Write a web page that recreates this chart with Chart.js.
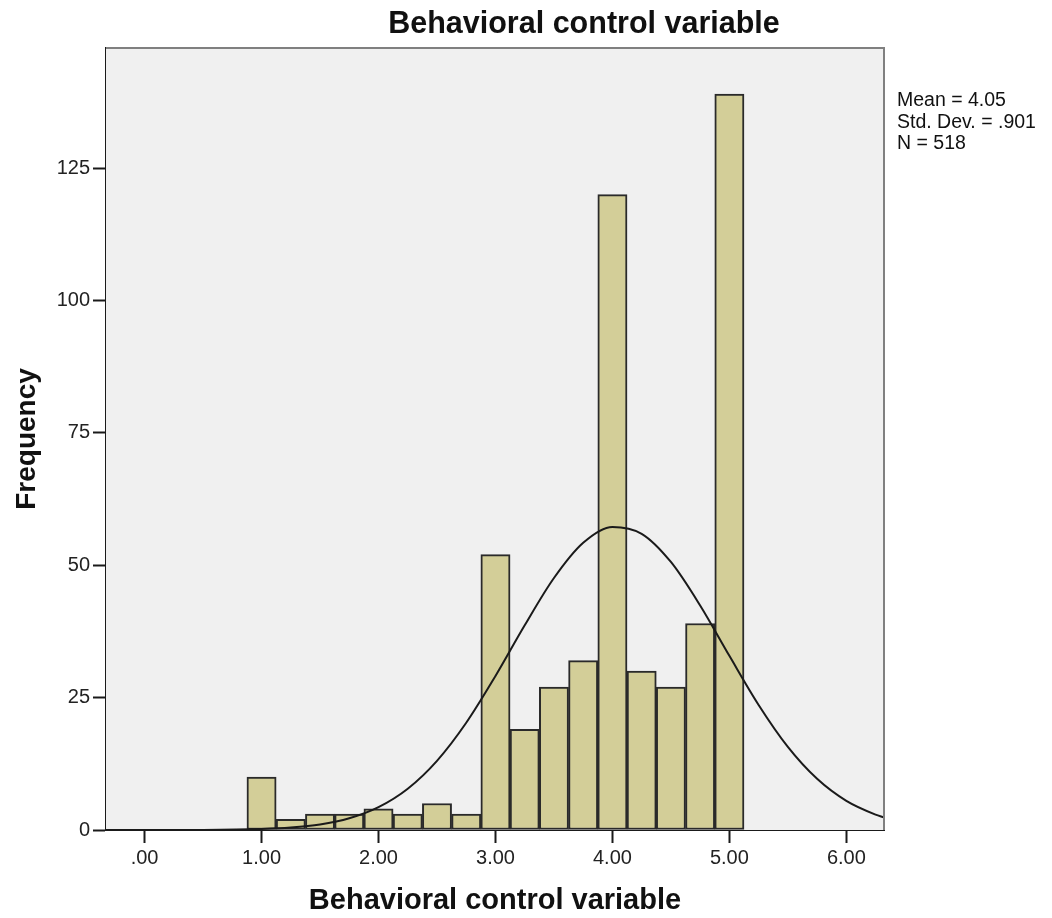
<!DOCTYPE html>
<html>
<head>
<meta charset="utf-8">
<script src="https://cdn.jsdelivr.net/npm/chart.js@4/dist/chart.umd.min.js"></script>
<style>
  html, body { margin: 0; background: #fff; }
</style>
</head>
<body>
<canvas id="hist" width="1052" height="918"></canvas>
<script>
// --- data ---
const chartTitle = "Behavioral control variable";
const xTitle = "Behavioral control variable";
const yTitle = "Frequency";

const binCenters = [1.00, 1.25, 1.50, 1.75, 2.00, 2.25, 2.50, 2.75, 3.00, 3.25, 3.50, 3.75, 4.00, 4.25, 4.50, 4.75, 5.00];
const frequencies = [10, 2, 3, 3, 4, 3, 5, 3, 52, 19, 27, 32, 120, 30, 27, 39, 139];

// normal curve as it appears on the plot
const curveX = [-0.33, 0.00, 0.50, 1.00, 1.25, 1.50, 1.75, 2.00, 2.25, 2.50, 2.75, 3.00, 3.25, 3.50, 3.75, 4.00, 4.25, 4.50, 4.75, 5.00, 5.25, 5.50, 5.75, 6.00, 6.25, 6.32];
const curveY = [0.0, 0.0, 0.02, 0.19, 0.46, 1.04, 2.21, 4.31, 7.79, 13.06, 20.25, 29.08, 38.66, 47.59, 54.25, 57.25, 55.95, 50.62, 42.40, 32.89, 23.62, 15.70, 9.67, 5.51, 2.91, 2.40];

const xTickValues = [0, 1, 2, 3, 4, 5, 6];
const xTickLabels = [".00", "1.00", "2.00", "3.00", "4.00", "5.00", "6.00"];
const yTickValues = [0, 25, 50, 75, 100, 125];
const yTickLabels = ["0", "25", "50", "75", "100", "125"];

const statsLines = ["Mean = 4.05", "Std. Dev. = .901", "N = 518"];

const FONT = "'Liberation Sans', Arial, sans-serif";

// plot background, frame, title and stats box
const decorations = {
  id: "decorations",
  beforeDatasetsDraw(chart) {
    const { ctx, chartArea: a } = chart;
    ctx.save();
    ctx.fillStyle = "#f0f0f0";
    ctx.fillRect(a.left, a.top, a.right - a.left, a.bottom - a.top);
    ctx.restore();
  },
  afterDraw(chart) {
    const { ctx, chartArea: a } = chart;
    ctx.save();
    ctx.strokeStyle = "#808080";
    ctx.lineWidth = 2;
    ctx.beginPath();
    ctx.moveTo(a.left, a.top);
    ctx.lineTo(a.right, a.top);
    ctx.lineTo(a.right, a.bottom);
    ctx.stroke();

    ctx.fillStyle = "#111";
    ctx.font = "bold 30.5px " + FONT;
    ctx.textAlign = "center";
    ctx.textBaseline = "middle";
    ctx.fillText(chartTitle, 584, 25);

    ctx.font = "19.5px " + FONT;
    ctx.textAlign = "left";
    statsLines.forEach((line, i) => {
      ctx.fillText(line, a.right + 13, 101 + i * 21.5);
    });
    ctx.restore();
  }
};

new Chart(document.getElementById("hist").getContext("2d"), {
  data: {
    datasets: [
      {
        type: "line",
        label: "Normal",
        data: curveX.map((x, i) => ({ x: x, y: curveY[i] })),
        borderColor: "#1a1a1a",
        borderWidth: 2,
        pointRadius: 0,
        cubicInterpolationMode: "monotone",
        order: 0
      },
      {
        type: "bar",
        label: "Frequency",
        data: binCenters.map((x, i) => ({ x: x, y: frequencies[i] })),
        backgroundColor: "#d3ce98",
        borderColor: "#2a2a2a",
        borderWidth: 2,
        borderSkipped: false,
        barPercentage: 1,
        categoryPercentage: 1,
        order: 1
      }
    ]
  },
  plugins: [decorations],
  options: {
    responsive: false,
    animation: false,
    layout: { padding: { top: 48, right: 168, left: 0, bottom: 0 } },
    plugins: {
      legend: { display: false },
      tooltip: { enabled: false },
      title: { display: false }
    },
    scales: {
      x: {
        type: "linear",
        offset: false,
        min: -0.33,
        max: 6.322,
        afterBuildTicks(scale) {
          scale.ticks = xTickValues.map(v => ({ value: v }));
        },
        afterFit(scale) {
          scale.height = 88;
        },
        ticks: {
          color: "#222",
          font: { family: FONT, size: 20 },
          padding: 3,
          maxRotation: 0,
          callback: (v) => xTickLabels[xTickValues.indexOf(v)]
        },
        grid: {
          offset: false,
          drawOnChartArea: false,
          tickLength: 13,
          tickWidth: 2,
          color: "#1a1a1a"
        },
        border: { color: "#1a1a1a", width: 2 },
        title: {
          display: true,
          text: xTitle,
          color: "#111",
          font: { family: FONT, size: 29, weight: "bold" },
          padding: { top: 0, bottom: 0 }
        }
      },
      y: {
        type: "linear",
        min: 0,
        max: 147.7,
        afterBuildTicks(scale) {
          scale.ticks = yTickValues.map(v => ({ value: v }));
        },
        afterFit(scale) {
          scale.width = 106;
        },
        ticks: {
          color: "#222",
          font: { family: FONT, size: 20 },
          padding: 3,
          callback: (v) => yTickLabels[yTickValues.indexOf(v)]
        },
        grid: {
          drawOnChartArea: false,
          tickLength: 13,
          tickWidth: 2,
          color: "#1a1a1a"
        },
        border: { color: "#1a1a1a", width: 2 },
        title: {
          display: true,
          text: yTitle,
          color: "#111",
          font: { family: FONT, size: 28, weight: "bold" },
          padding: { top: 10, bottom: 0 }
        }
      }
    }
  }
});
</script>
</body>
</html>
